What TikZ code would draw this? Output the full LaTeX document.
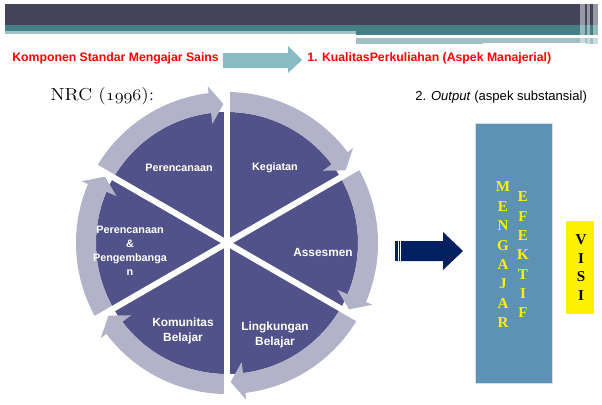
\documentclass[tikz,border=0pt]{standalone}
\usepackage{fontspec}
\usepackage{graphicx}
\setmainfont{Liberation Sans}
\newfontfamily\timesfont{Liberation Serif}
\usetikzlibrary{positioning}
\definecolor{hdrdark}{HTML}{434459}
\definecolor{hdrteal}{HTML}{457F86}
\definecolor{hdrlight}{HTML}{A2C1C4}
\definecolor{arrteal}{HTML}{87BDC2}
\definecolor{pie}{HTML}{52528A}
\definecolor{ring}{HTML}{B2B2C8}
\definecolor{navy}{HTML}{002060}
\definecolor{boxblue}{HTML}{5E92B4}
\definecolor{boxedge}{HTML}{D6DEEA}
\begin{document}
\begin{tikzpicture}[x=0.75pt,y=-0.75pt,
  redtxt/.style={text=red,font=\bfseries\fontsize{9.2}{11}\selectfont,inner sep=0pt,anchor=west},
  pielbl/.style={text=white,font=\bfseries\fontsize{8.1}{10.5}\selectfont,align=center,inner sep=0pt},
  pielbl big/.style={pielbl,font=\bfseries\fontsize{8.9}{11.8}\selectfont},
  ltr/.style={text=yellow,font=\timesfont\bfseries\fontsize{11.3}{12}\selectfont,inner sep=0pt},
  visiltr/.style={ltr,text=black}]
  \useasboundingbox (0,0) rectangle (602,404);
  \fill[white] (0,0) rectangle (602,404);
  % header
  \fill[hdrdark] (5,4) rectangle (598,25);
  \fill[hdrteal] (5,25) rectangle (598,31);
  \fill[hdrteal] (356,31) rectangle (598,34.5);
  \fill[hdrlight] (5,31) rectangle (356,34);
  \fill[hdrlight] (356,37.5) rectangle (598,44);
  \fill[white] (483,42.5) rectangle (586,43.5);
  \foreach \x/\w in {580/5,587/3,593/5}
    \fill[white,opacity=0.45] (\x,4) rectangle (\x+\w,44);

  \node[redtxt] (komponen) at (12,58) {Komponen Standar Mengajar Sains};
  \node[redtxt] (kualitas) at (307,58) {1. KualitasPerkuliahan (Aspek Manajerial)};
  \fill[arrteal] (223,53) -- (288,53) -- (288,46) -- (302,60) -- (288,73) -- (288,68) -- (223,68) -- cycle;

  \node[anchor=west,inner sep=0pt,font=\fontfamily{lmr}\fontsize{13}{16}\selectfont] (nrc) at (50,96)
    {\scalebox{1.13}[1]{NRC ({\usefont{OML}{cmm}{m}{it}1996}):}};
  \node[anchor=west,inner sep=0pt,font=\fontsize{9.8}{12}\selectfont] (output) at (415,97) {2. \textit{Output} (aspek substansial)};

  % wheel
  \begin{scope}[shift={(227,243)},yscale=-1]
    \fill[pie] (0,0) circle[radius=131];
    \foreach \a in {150,90,...,-150}
      \fill[ring] (\a:151) arc[start angle=\a, end angle=\a-53, radius=151]
        -- ({\a-53}:158) -- ({\a-58.5}:139) -- ({\a-53}:120) -- ({\a-53}:131)
        arc[start angle=\a-53, end angle=\a, radius=131] -- cycle;
    \foreach \a in {30,90,...,330}
      \draw[white,line width=4.5pt] (0,0) -- (\a:170);
  \end{scope}
  \node[pielbl] (plan) at (179,168) {Perencanaan};
  \node[pielbl] (kegiatan) at (275,168) {Kegiatan};
  \node[pielbl big] (asesmen) at (323,252) {Assesmen};
  \node[pielbl big] (lingkungan) at (275,335) {Lingkungan\\Belajar};
  \node[pielbl big] (komunitas) at (183,331) {Komunitas\\Belajar};
  \node[pielbl] (kembang) at (130,251) {Perencanaan\\\&\\Pengembanga\\n};

  % output side
  \fill[navy] (395,241) rectangle (397.5,261);
  \fill[navy] (398.5,241) rectangle (400,261);
  \fill[navy] (401,241) -- (443,241) -- (443,232) -- (463,251) -- (443,270) -- (443,261) -- (401,261) -- cycle;
  \node[fill=boxblue,draw=boxedge,line width=0.6pt,minimum width=57.75pt,minimum height=195pt,inner sep=0pt] (mengajar) at (513.5,253) {};
  \foreach \ch [count=\i from 0] in {M,E,N,G,A,J,A,R}
    \node[ltr] (m\i) at (503,{187+19.4*\i}) {\ch};
  \foreach \ch [count=\i from 0] in {E,F,E,K,T,I,F}
    \node[ltr] (e\i) at (523,{197+19.3*\i}) {\ch};
  \node[fill=yellow,minimum width=21pt,minimum height=69.75pt,inner sep=0pt] (visi) at (580,267.5) {};
  \foreach \ch [count=\i from 0] in {V,I,S,I}
    \node[visiltr] (v\i) at (581,{240+18.4*\i}) {\ch};
\end{tikzpicture}
\end{document}
